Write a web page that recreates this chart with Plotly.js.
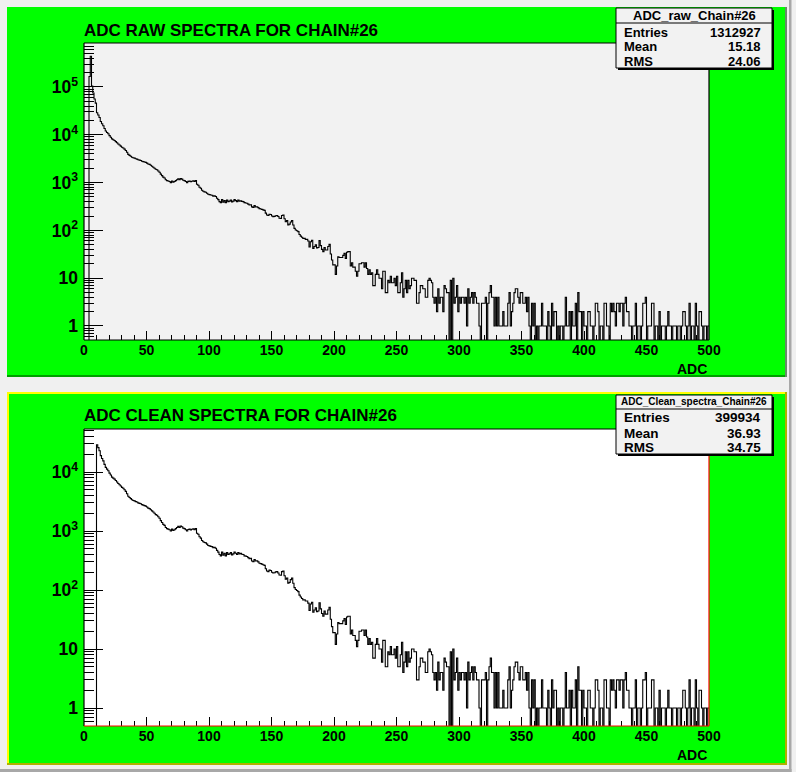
<!DOCTYPE html>
<html><head><meta charset="utf-8">
<script src="https://cdn.plot.ly/plotly-3.0.1.min.js"></script>
<style>html,body{margin:0;padding:0;background:#f0f0f0;}#chart{width:796px;height:772px;}</style>
</head><body><div id="chart"></div>
<script>
// ---------------- DATA ----------------
const binWidth = 1;            // ADC units per bin (500 bins, 0..500)
const xTickValues = [0, 50, 100, 150, 200, 250, 300, 350, 400, 450, 500];
// Raw spectrum, bins 0..9 (pedestal region)
const rawPedestal = [0, 0, 0, 0, 166000, 440000, 105000, 75000, 56000, 46000];
// Clean spectrum, bins 0..9 (pedestal removed)
const cleanPedestal = [0, 0, 0, 0, 0, 0, 0, 0, 0, 0];
// Common spectrum, bins 10..124
const countsLow = [
  29000,26000,23000,19000,17000,15500,13500,12000,11200,10500,
  9600,8900,8200,7900,7600,7200,6800,6400,6100,5800,
  5500,5300,5000,4700,4300,3900,3700,3550,3400,3300,
  3250,3150,3100,3000,2950,2900,2800,2750,2700,2650,
  2550,2450,2400,2300,2200,2100,2000,1900,1850,1750,
  1650,1500,1400,1300,1250,1150,1100,1080,1050,1000,
  1080,1020,1050,1100,1150,1200,1150,1220,1180,1120,
  1100,1050,1000,1060,1080,1040,1070,1090,1050,1100,
  920,880,800,760,690,660,640,630,600,570,
  560,550,545,520,530,510,470,440,400,380,
  440,390,420,380,430,400,410,430,395,410,
  440,420,400,430,410
];
// Common spectrum, bins 125..252
const countsMid = [
  418,405,400,380,375,
  370,355,340,345,310,303,330,310,312,300,
  285,280,275,268,262,230,210,205,218,215,
  200,194,196,203,205,195,180,178,205,210,
  175,152,160,130,135,150,160,130,110,102,
  98,94,82,76,72,68,68,65,65,60,
  45,58,62,42,46,50,43,44,61,48,
  40,36,44,39,39,46,51,32,24,19,
  19,12,18,28,27,27,27,30,33,26,
  35,36,36,18,21,17,17,14,11,14,
  20,20,21,21,17,21,16,12,15,12,
  13,7,7,12,15,12,10,10,6,14,
  14,5,5,9,8,11,8,8,10,7,
  11,5,5
];
// Common spectrum, bins 253..499
const countsTail = [
  8,13,4,6,9,5,9,
  6,7,10,10,9,9,3,3,5,7,
  7,6,6,4,4,9,10,9,8,4,
  3,4,2,6,3,4,4,2,7,6,
  5,5,0,9,0,10,3,4,7,2,
  4,3,4,4,3,4,1,6,3,4,
  5,3,5,4,3,3,1,0,3,3,
  3,4,0,3,5,7,4,4,1,4,
  1,4,1,1,1,2,1,1,1,3,
  5,1,2,3,5,6,6,4,3,5,
  5,3,3,4,2,4,1,0,3,1,
  3,0,1,0,1,1,3,1,1,1,
  0,2,1,0,3,1,2,
  2,0,1,
  0,1,1,0,1,4,1,1,2,0,
  2,1,1,3,0,5,2,2,0,2,
  1,1,0,2,2,1,1,0,1,3,
  3,2,0,1,1,0,3,3,1,1,
  0,3,2,3,2,1,3,3,2,3,
  3,1,3,4,2,2,1,1,0,1,
  1,3,0,1,1,0,1,3,3,4,
  0,1,1,1,3,3,0,1,1,0,
  2,0,1,1,1,0,1,2,1,1,
  0,1,1,1,0,1,1,0,1,2,
  2,1,0,1,3,0,1,1,0,3,
  1,0,2,2,1,0,1,1,0,1
];
const statLabels = ['Entries', 'Mean', 'RMS'];
const rawStatName = 'ADC_raw_Chain#26';
const rawStatValues = ['1312927', '15.18', '24.06'];
const cleanStatName = 'ADC_Clean_spectra_Chain#26';
const cleanStatValues = ['399934', '36.93', '34.75'];
const rawTitle = 'ADC RAW SPECTRA FOR CHAIN#26';
const cleanTitle = 'ADC CLEAN SPECTRA FOR CHAIN#26';
const xAxisTitle = 'ADC';

// ---------------- BUILD ----------------
const rawCounts = rawPedestal.concat(countsLow, countsMid, countsTail);
const cleanCounts = cleanPedestal.concat(countsLow, countsMid, countsTail);
const FLOOR = 0.05; // empty bins are drawn down below the frame, as ROOT does

function stepTrace(counts, xa, ya) {
  const x = [], y = [];
  counts.forEach((c, i) => { x.push(i * binWidth); y.push(c > 0 ? c : FLOOR); });
  x.push(counts.length * binWidth);
  y.push(counts[counts.length - 1] > 0 ? counts[counts.length - 1] : FLOOR);
  return {type: 'scatter', mode: 'lines', x, y, xaxis: xa, yaxis: ya,
          line: {shape: 'hv', color: '#000', width: 1.1}, hoverinfo: 'skip', showlegend: false};
}

const W = 796, H = 772;
const px = v => v / W, py = v => 1 - v / H;
const FONT = 'Liberation Sans, Arial, Helvetica, sans-serif';

function rect(x0, y0, x1, y1, fill, layer, lineColor, lineWidth) {
  return {type: 'rect', xref: 'paper', yref: 'paper', x0: px(x0), x1: px(x1), y0: py(y1), y1: py(y0),
          fillcolor: fill || 'rgba(0,0,0,0)', layer: layer || 'below',
          line: {width: lineWidth || 0, color: lineColor || 'rgba(0,0,0,0)'}};
}
function seg(x0, y0, x1, y1, color, width, layer) {
  return {type: 'line', xref: 'paper', yref: 'paper', x0: px(x0), x1: px(x1), y0: py(y0), y1: py(y1),
          layer: layer || 'above', line: {color: color, width: width || 1}};
}
function ann(text, x, y, xanchor, size, weight) {
  return {text, xref: 'paper', yref: 'paper', x: px(x), y: py(y), xanchor, yanchor: 'middle',
          showarrow: false, font: {family: FONT, size, color: '#000', weight: weight || 'bold'}};
}

function xAxisCfg(anchor) {
  return {domain: [px(84), px(709)], range: [0, 500], anchor, tickmode: 'array', tickvals: xTickValues,
          ticks: 'inside', ticklen: 9, tickwidth: 1, tickcolor: '#000',
          minor: {dtick: 10, tick0: 0, ticks: 'inside', ticklen: 5, tickwidth: 1, tickcolor: '#000', showgrid: false},
          showgrid: false, zeroline: false, showline: false,
          tickfont: {family: FONT, size: 14, color: '#000', weight: 'bold'}, fixedrange: true};
}
function yAxisCfg(anchor, top, bottom, range) {
  return {domain: [py(bottom), py(top)], type: 'log', range, anchor, tickmode: 'linear', tick0: 0, dtick: 1,
          exponentformat: 'power', ticks: 'inside', ticklen: 19, tickwidth: 1, tickcolor: '#000',
          ticklabelstandoff: 5,
          minor: {dtick: 'D1', ticks: 'inside', ticklen: 10, tickwidth: 1, tickcolor: '#000', showgrid: false},
          showgrid: false, zeroline: false, showline: false,
          tickfont: {family: FONT, size: 14, color: '#000', weight: 'bold'}, fixedrange: true};
}

const shapes = [
  // canvas bevel
  rect(789, 0, 791.5, 772, '#a8a8a8'),
  rect(0, 769, 791.5, 772, '#a8a8a8'),
  // top pad
  rect(7, 7, 787, 377, '#00ff00'),
  rect(7, 375, 787, 377, '#00a000'),
  rect(785, 7, 787, 377, '#6a8a6a'),
  // bottom pad
  rect(7, 392, 787, 765, '#00ff00'),
  rect(7, 392, 787, 394, '#ffff00'),
  rect(7, 392, 9, 765, '#ffff00'),
  rect(7, 763, 787, 765, '#b0b000'),
  rect(785, 392, 787, 765, '#b0b000'),
  // frames
  rect(84, 43, 709, 340, '#f2f2f2'),
  rect(84, 429, 709, 726, '#ffffff'),
  seg(84, 43, 709, 43, '#000', 1.2),
  seg(709, 43, 709, 340, '#000', 1.2),
  seg(84, 340, 709, 340, '#000', 1.2),
  seg(84, 43, 84, 340, '#000', 1.2),
  seg(84, 429, 709, 429, '#000', 1.2),
  seg(84, 429, 84, 726, '#000', 1.2),
  seg(84, 726, 709, 726, '#ff0000', 1.2),
  seg(709, 429, 709, 726, '#ff0000', 1.2),
  // stats boxes (shadow + box + header separator)
  rect(618, 10, 774, 70, '#000', 'above'),
  rect(616, 8, 772, 68, '#f2f2f2', 'above', '#000', 1),
  seg(616, 23, 772, 23, '#000', 1),
  rect(618, 397, 774, 456, '#000', 'above'),
  rect(616, 395, 772, 454, '#f2f2f2', 'above', '#000', 1),
  seg(616, 409, 772, 409, '#000', 1)
];

const annotations = [
  ann(rawTitle, 82, 30, 'left', 17),
  ann(cleanTitle, 82, 415, 'left', 17),
  ann(xAxisTitle, 709, 369, 'right', 14),
  ann(xAxisTitle, 709, 755, 'right', 14),
  ann(rawStatName, 694, 15.5, 'center', 13),
  ann(cleanStatName, 694, 402, 'center', 10)
];
const rawRowsY = [32, 47, 62];
const cleanRowsY = [417.5, 433, 448];
statLabels.forEach((lab, i) => {
  annotations.push(ann(lab, 622, rawRowsY[i], 'left', 13));
  annotations.push(ann(rawStatValues[i], 763, rawRowsY[i], 'right', 13));
  annotations.push(ann(lab, 622, cleanRowsY[i], 'left', 13.5));
  annotations.push(ann(cleanStatValues[i], 763, cleanRowsY[i], 'right', 13.5));
});

const data = [stepTrace(rawCounts, 'x', 'y'), stepTrace(cleanCounts, 'x2', 'y2')];
const layout = {
  width: W, height: H, margin: {l: 0, r: 0, t: 0, b: 0, pad: 0},
  paper_bgcolor: '#f0f0f0', plot_bgcolor: 'rgba(0,0,0,0)', showlegend: false,
  xaxis: xAxisCfg('y'), yaxis: yAxisCfg('x', 43, 340, [-0.293, 5.92]),
  xaxis2: xAxisCfg('y2'), yaxis2: yAxisCfg('x2', 429, 726, [-0.305, 4.73]),
  shapes, annotations
};
Plotly.newPlot('chart', data, layout, {staticPlot: true, displayModeBar: false});
</script></body></html>
